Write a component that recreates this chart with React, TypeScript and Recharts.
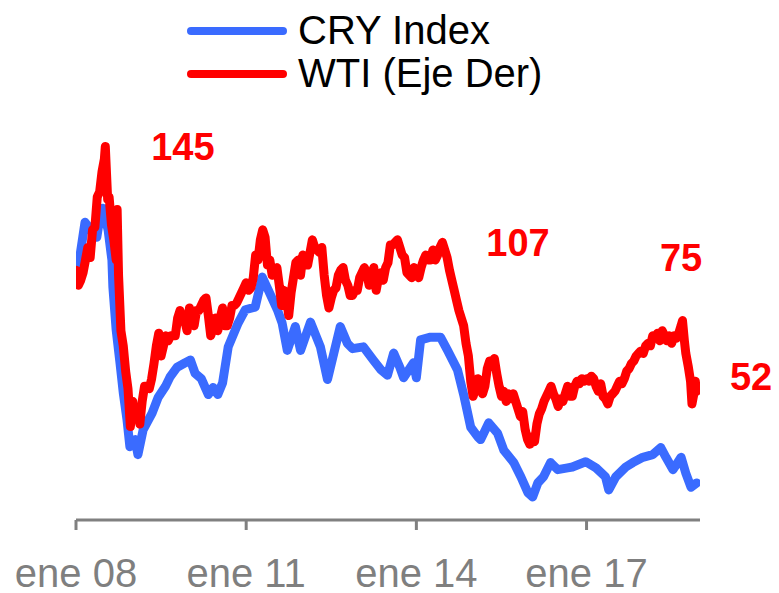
import React from 'react';
import { LineChart, Line, XAxis, YAxis, Legend, ReferenceDot } from 'recharts';

const BLUE = '#3a6bff';
const RED = '#ff0000';
const GRAY = '#7f7f7f';
const FONT = '"Liberation Sans", Arial, sans-serif';

const tickMonths = [0, 36, 72, 108];
const tickLabels = ['ene 08', 'ene 11', 'ene 14', 'ene 17'];

const cryMonths = [
  0, 1.9, 4.4, 5.3, 5.7, 6.8, 7.6, 7.8, 8.5, 9.3, 10, 10.8, 11.4, 12.5, 13.1, 14.2, 15.3, 16.1, 17.4, 18.9,
  19.9, 21.4, 23.1, 24.2, 25.2, 26.5, 28, 29, 30, 31, 32.2, 34.3, 35.8, 37.9, 39.4, 40.7, 42.6, 43.6, 44.7, 46.4, 47.5,
  49.6, 51.7, 53.2, 55.9, 57.4, 58.5, 60.8, 62.9, 64.5, 65.9, 67.2, 68.5, 69.3, 71.4, 72, 72.9, 75, 77.1, 78.6, 80.7, 82, 83.5,
  85, 85.6, 87.3, 89.2, 90.5, 92.6, 94.1, 95.6, 96.6, 97.7, 98.9, 100.4, 101.9, 104, 105, 107.8, 110, 112,
  112.7, 114.2, 116.3, 117.8, 119.9, 122, 123.7, 124.8, 126.3, 128, 129, 130.1, 131.3,
];
const cryValues = [
  389, 457, 440, 471, 473, 448, 414, 384, 335, 298, 264, 233, 203, 211, 194, 222, 233, 241, 259, 271,
  282, 293, 298, 301, 286, 280, 262, 270, 262, 275, 316, 343, 358, 361, 395, 380, 358, 343, 312, 339, 312,
  344, 316, 279, 339, 320, 314, 316, 301, 290, 284, 309, 293, 281, 298, 281, 324, 327, 327, 312, 290, 262, 225,
  214, 211, 230, 218, 199, 185, 169, 151, 146, 162, 169, 185, 177, 179, 180, 186, 179, 169,
  154, 169, 180, 185, 191, 194, 202, 191, 177, 191, 173, 157, 162,
];

const wtiMonths = [
  0, 0.5, 1, 1.5, 2, 2.5, 3, 3.5, 4, 4.5, 5, 5.5, 6, 6.2, 6.7, 7, 7.5, 8, 8.5, 8.7, 9, 9.5, 10, 10.5, 11, 11.5,
  12, 12.5, 13, 13.5, 14, 14.5, 15, 15.5, 16, 16.5, 17, 17.5, 18, 18.5, 19, 19.5, 20, 20.5, 21, 21.5, 22, 22.5, 23, 23.5,
  24, 24.5, 25, 25.5, 26, 26.5, 27, 27.5, 28, 28.5, 29, 29.5, 30, 30.5, 31, 31.5, 32, 32.5, 33, 33.5, 34, 34.5, 35, 35.5,
  36, 36.5, 37, 37.5, 38, 38.5, 39, 39.5, 40, 40.5, 41, 41.5, 42, 42.5, 43, 43.5, 44, 44.5, 45, 45.5, 46, 46.5, 47, 47.5,
  48, 48.5, 49, 49.5, 50, 50.5, 51, 51.5, 52, 52.5, 53, 53.5, 54, 54.5, 55, 55.5, 56, 56.5, 57, 57.5, 58, 58.5, 59, 59.5,
  60, 60.5, 61, 61.5, 62, 62.5, 63, 63.5, 64, 64.5, 65, 65.5, 66, 66.5, 67, 67.5, 68, 68.5, 69, 69.5, 70, 70.5, 71, 71.5,
  72, 72.5, 73, 73.5, 74, 74.5, 75, 75.5, 76, 76.5, 77, 77.5, 78, 78.5, 79, 79.5, 80, 80.5, 81, 81.5, 82, 82.5, 83, 83.5,
  84, 84.5, 85, 85.5, 86, 86.5, 87, 87.5, 88, 88.5, 89, 89.5, 90, 90.5, 91, 91.5, 92, 92.5, 93, 93.5, 94, 94.5, 95, 95.5,
  96, 96.5, 97, 97.5, 98, 98.5, 99, 99.5, 100, 100.5, 101, 101.5, 102, 102.5, 103, 103.5, 104, 104.5, 105, 105.5, 106, 106.5, 107, 107.5,
  108, 108.5, 109, 109.5, 110, 110.5, 111, 111.5, 112, 112.5, 113, 113.5, 114, 114.5, 115, 115.5, 116, 116.5, 117, 117.5, 118, 118.5, 119, 119.5,
  120, 120.5, 121, 121.5, 122, 122.5, 123, 123.5, 124, 124.5, 125, 125.5, 126, 126.5, 127, 127.5, 128, 128.3, 128.7, 129, 129.5, 130, 130.3, 130.7, 131, 131.3,
];
const wtiValues = [
  96, 90, 92, 95, 100, 105, 101, 112, 113, 125, 127, 135, 140, 145, 124, 125, 114, 108, 100, 120, 94, 72, 66, 56, 49, 34,
  44, 37, 41, 35, 44, 50, 50, 49, 53, 59, 66, 71, 62, 66, 70, 68, 70, 70, 70, 77, 80, 77, 76, 72,
  81, 77, 74, 80, 80, 82, 84, 85, 78, 70, 73, 77, 72, 77, 81, 74, 74, 77, 82, 82, 83, 85, 87, 89,
  91, 88, 89, 93, 102, 100, 108, 112, 109, 98, 100, 94, 95, 97, 90, 82, 88, 85, 78, 87, 93, 99, 100, 94,
  102, 99, 98, 103, 108, 105, 104, 103, 105, 94, 86, 81, 85, 88, 89, 94, 96, 97, 92, 90, 86, 86, 88, 88,
  93, 95, 97, 95, 90, 93, 97, 88, 93, 95, 92, 97, 99, 106, 106, 107, 108, 105, 102, 101, 95, 94, 93, 97,
  95, 93, 97, 100, 102, 100, 100, 104, 100, 102, 105, 107, 104, 101, 96, 92, 88, 84, 80, 77, 74, 67, 62, 52,
  46, 49, 53, 50, 47, 50, 57, 60, 59, 61, 55, 50, 46, 48, 44, 47, 45, 47, 44, 41, 38, 40, 33, 29,
  27, 30, 28, 35, 39, 41, 44, 46, 48, 50, 47, 45, 42, 45, 44, 47, 50, 46, 46, 50, 52, 51, 53, 52,
  53, 52, 54, 53, 50, 48, 51, 46, 45, 43, 46, 47, 48, 50, 52, 51, 53, 56, 57, 59, 60, 62, 63, 64,
  63, 66, 67, 66, 70, 69, 71, 68, 72, 70, 68, 70, 67, 70, 69, 71, 74, 76, 68, 63, 58, 52, 43, 47, 52, 48,
];

const annotationLabels = ['145', '107', '75', '52'];
const annotationMonths = [22.6, 93.5, 128, 142.8];
const annotationLevels = [145, 107, 101, 54];

const legendLabels = ['CRY Index', 'WTI (Eje Der)'];
const legendColors = [BLUE, RED];

const cryData = cryMonths.map((t, i) => ({ t, cry: cryValues[i] }));
const wtiData = wtiMonths.map((t, i) => ({ t, wti: wtiValues[i] }));

const renderLegend = () => (
  <div style={{ fontFamily: FONT }}>
    {legendLabels.map((label, i) => (
      <div key={label} style={{ display: 'flex', alignItems: 'center', height: 43 }}>
        <div style={{ width: 100, height: 8, borderRadius: 4, background: legendColors[i], marginRight: 11 }} />
        <span style={{ fontSize: 40, lineHeight: '43px', color: '#000', whiteSpace: 'nowrap' }}>{label}</span>
      </div>
    ))}
  </div>
);

export default function App() {
  return (
    <div style={{ position: 'absolute', left: 0, top: 0, width: 779, height: 593, background: '#fff' }}>
      <LineChart width={779} height={593} margin={{ top: 96, right: 79, bottom: 0, left: 76 }}>
        <XAxis
          dataKey="t"
          type="number"
          domain={[0, 132]}
          ticks={tickMonths}
          interval={0}
          allowDataOverflow
          tickFormatter={(v: number) => tickLabels[tickMonths.indexOf(v)]}
          axisLine={{ stroke: '#808080', strokeWidth: 3 }}
          tickLine={{ stroke: '#808080', strokeWidth: 3 }}
          tickSize={10}
          tickMargin={29}
          height={73}
          tick={{ fill: GRAY, fontSize: 40, fontFamily: FONT }}
        />
        <YAxis yAxisId="left" hide domain={[120, 600]} allowDataOverflow />
        <YAxis yAxisId="right" orientation="right" hide domain={[-3, 165]} allowDataOverflow />
        <Legend
          layout="vertical"
          align="center"
          verticalAlign="middle"
          wrapperStyle={{ position: 'absolute', top: 9, left: 187, width: 420, height: 86 }}
          content={renderLegend}
        />
        <Line
          yAxisId="left"
          data={cryData}
          dataKey="cry"
          name="CRY Index"
          type="linear"
          stroke={BLUE}
          strokeWidth={9}
          strokeLinejoin="round"
          strokeLinecap="round"
          dot={false}
          activeDot={false}
          isAnimationActive={false}
        />
        <Line
          yAxisId="right"
          data={wtiData}
          dataKey="wti"
          name="WTI (Eje Der)"
          type="linear"
          stroke={RED}
          strokeWidth={9}
          strokeLinejoin="round"
          strokeLinecap="round"
          dot={false}
          activeDot={false}
          isAnimationActive={false}
        />
        {annotationLabels.map((label, i) => (
          <ReferenceDot
            key={label}
            yAxisId="right"
            x={annotationMonths[i]}
            y={annotationLevels[i]}
            r={0}
            ifOverflow="visible"
            shape={(p: any) => (
              <text
                x={p.cx}
                y={p.cy}
                dy="0.36em"
                textAnchor="middle"
                fill={RED}
                fontSize={38}
                fontWeight="bold"
                fontFamily={FONT}
              >
                {label}
              </text>
            )}
          />
        ))}
      </LineChart>
    </div>
  );
}
